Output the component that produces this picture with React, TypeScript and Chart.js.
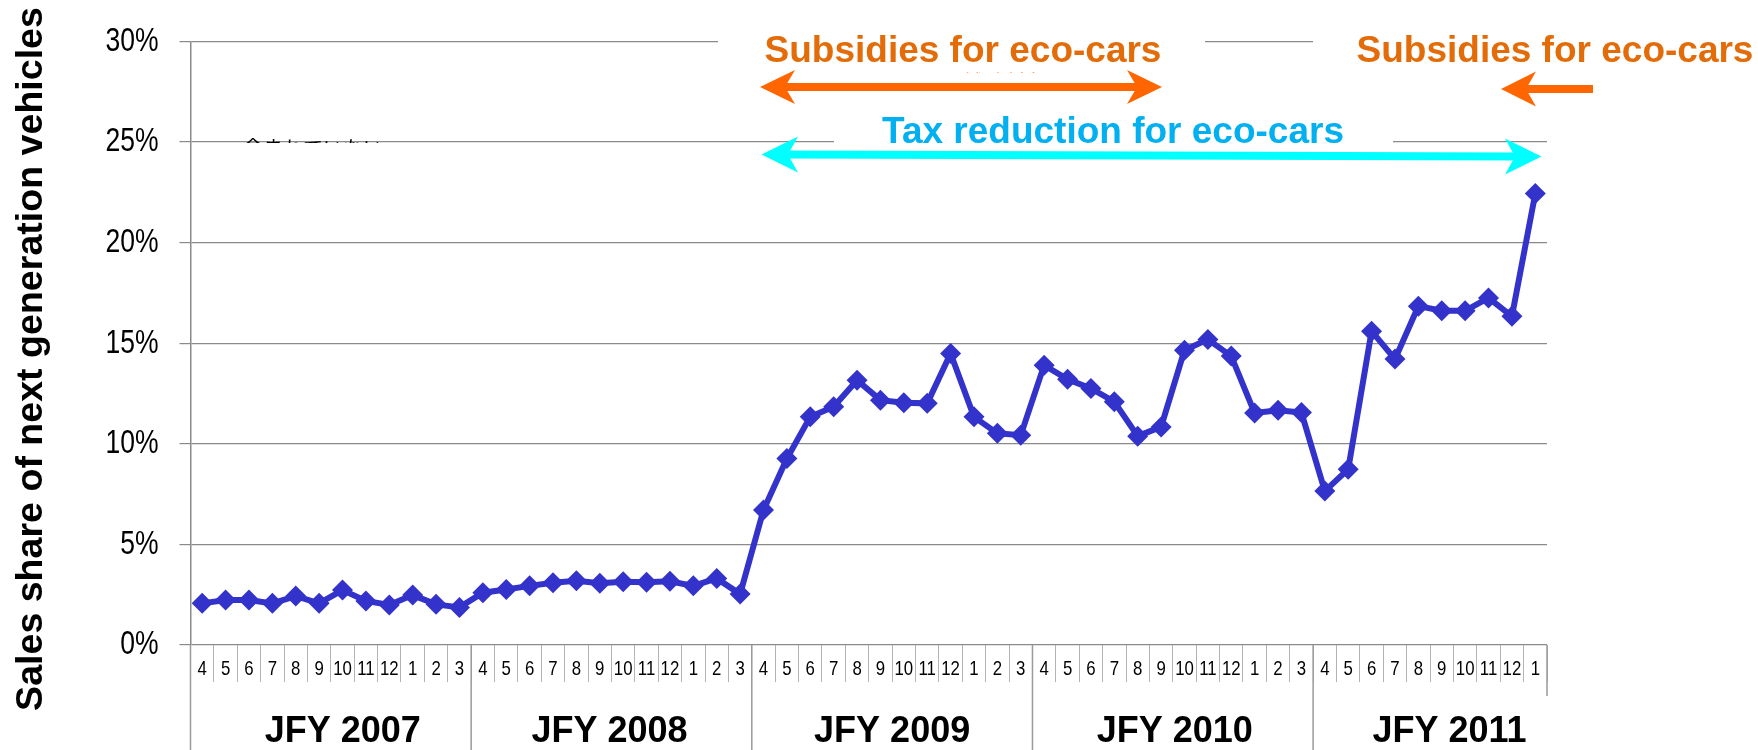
import React, { useEffect, useRef } from 'react';
import { Chart, registerables } from 'chart.js';

Chart.register(...registerables);

// ---------- data ----------
const monthLabels = [
  '4', '5', '6', '7', '8', '9', '10', '11', '12', '1', '2', '3',
  '4', '5', '6', '7', '8', '9', '10', '11', '12', '1', '2', '3',
  '4', '5', '6', '7', '8', '9', '10', '11', '12', '1', '2', '3',
  '4', '5', '6', '7', '8', '9', '10', '11', '12', '1', '2', '3',
  '4', '5', '6', '7', '8', '9', '10', '11', '12', '1',
];
const fiscalYears = ['JFY 2007', 'JFY 2008', 'JFY 2009', 'JFY 2010', 'JFY 2011'];
const monthsPerYear = [12, 12, 12, 12, 10];

const share2007 = [2.07, 2.24, 2.24, 2.07, 2.43, 2.07, 2.73, 2.19, 1.99, 2.48, 2.02, 1.87];
const share2008 = [2.6, 2.76, 2.94, 3.09, 3.19, 3.07, 3.14, 3.12, 3.17, 2.94, 3.31, 2.53];
const share2009 = [6.71, 9.27, 11.34, 11.84, 13.16, 12.17, 12.04, 12.01, 14.49, 11.34, 10.52, 10.43];
const share2010 = [13.91, 13.21, 12.75, 12.09, 10.38, 10.84, 14.65, 15.19, 14.36, 11.53, 11.67, 11.55];
const share2011 = [7.65, 8.74, 15.6, 14.21, 16.84, 16.61, 16.61, 17.25, 16.34, 22.44];

const yTickValues = [0, 5, 10, 15, 20, 25, 30];

const yTitle = 'Sales share of next generation vehicles';
const subsidyText = 'Subsidies for eco-cars';
const taxText = 'Tax reduction for eco-cars';
const hiddenNote = '含まれていない';
const hiddenNote2 = '補助対象';

const seriesValues = [...share2007, ...share2008, ...share2009, ...share2010, ...share2011];

// ---------- styles ----------
const SANS = '"Liberation Sans", Arial, sans-serif';
const GRID = '#8a8a8a';
const ORANGE_TEXT = '#E36C09';
const ORANGE = '#FF6600';
const BLUE_TEXT = '#00B0F0';
const CYAN = '#00FFFF';
const LINE = '#3333CC';

// draw a scale's tick labels horizontally condensed (Arial-Narrow look)
function condenseLabels(scale: any, k: number) {
  if (scale.__condensed) return;
  scale.__condensed = true;
  const orig = scale.drawLabels.bind(scale);
  scale.drawLabels = (area: any) => {
    const ctx = scale.ctx;
    const of = ctx.fillText;
    ctx.fillText = function (text: string, x: number, y: number, maxW?: number) {
      this.save();
      this.translate(x, y);
      this.scale(k, 1);
      if (maxW === undefined) of.call(this, text, 0, 0);
      else of.call(this, text, 0, 0, maxW / k);
      this.restore();
    };
    try {
      orig(area);
    } finally {
      ctx.fillText = of;
    }
  };
}

function arrowHead(ctx: CanvasRenderingContext2D, tx: number, ty: number, dir: number, len: number, half: number, notch: number) {
  ctx.beginPath();
  ctx.moveTo(tx, ty);
  ctx.lineTo(tx + dir * len, ty - half);
  ctx.lineTo(tx + dir * (len - notch), ty);
  ctx.lineTo(tx + dir * len, ty + half);
  ctx.closePath();
  ctx.fill();
}

const overlayPlugin = {
  id: 'overlay',
  afterDraw(chart: any) {
    const ctx: CanvasRenderingContext2D = chart.ctx;
    const xs = chart.scales.x;
    const area = chart.chartArea;
    ctx.save();

    // white text boxes hiding gridlines
    ctx.fillStyle = '#ffffff';
    ctx.fillRect(718, 30, 487, 20);
    ctx.fillRect(834, 132, 559, 18);
    ctx.fillRect(1313, 30, 445, 20);

    // faint hidden note slivers
    ctx.save();
    ctx.beginPath();
    ctx.rect(230, 130, 200, 13);
    ctx.clip();
    ctx.fillStyle = '#000';
    ctx.font = `20px "Noto Sans CJK JP", sans-serif`;
    ctx.textAlign = 'left';
    ctx.textBaseline = 'alphabetic';
    ctx.fillText(hiddenNote, 243, 156);
    ctx.restore();

    ctx.save();
    ctx.beginPath();
    ctx.rect(955, 70, 95, 3);
    ctx.clip();
    ctx.fillStyle = ORANGE;
    ctx.font = `21px "Noto Sans CJK JP", sans-serif`;
    ctx.textAlign = 'left';
    ctx.fillText(hiddenNote2, 963, 90);
    ctx.restore();

    // annotation texts
    ctx.font = `bold 37px ${SANS}`;
    ctx.textAlign = 'center';
    ctx.textBaseline = 'alphabetic';
    ctx.fillStyle = ORANGE_TEXT;
    ctx.fillText(subsidyText, 963, 62);
    ctx.fillText(subsidyText, 1555, 62);
    ctx.fillStyle = BLUE_TEXT;
    ctx.fillText(taxText, 1113, 143);

    // orange double arrow
    ctx.fillStyle = ORANGE;
    ctx.strokeStyle = ORANGE;
    ctx.lineWidth = 8;
    ctx.beginPath();
    ctx.moveTo(780, 87);
    ctx.lineTo(1142, 87);
    ctx.stroke();
    arrowHead(ctx, 760, 87, 1, 35, 17, 10);
    arrowHead(ctx, 1162, 87, -1, 35, 17, 10);

    // orange single arrow (right)
    ctx.beginPath();
    ctx.moveTo(1521, 89);
    ctx.lineTo(1593, 89);
    ctx.stroke();
    arrowHead(ctx, 1501, 89, 1, 35, 17.5, 10);

    // cyan double arrow
    ctx.fillStyle = CYAN;
    ctx.strokeStyle = CYAN;
    ctx.beginPath();
    ctx.moveTo(782, 154.5);
    ctx.lineTo(1521, 156.5);
    ctx.stroke();
    arrowHead(ctx, 761.5, 154.5, 1, 36.5, 18, 10);
    arrowHead(ctx, 1541.5, 156.5, -1, 36.5, 18, 10);

    // y-axis title
    ctx.save();
    ctx.translate(42, 359);
    ctx.rotate(-Math.PI / 2);
    ctx.fillStyle = '#000';
    ctx.font = `bold 37.6px ${SANS}`;
    ctx.textAlign = 'center';
    ctx.textBaseline = 'alphabetic';
    ctx.fillText(yTitle, 0, 0);
    ctx.restore();

    // fiscal-year dividers and labels
    const nudges = [12, -2, 0, 2, -4];
    ctx.strokeStyle = '#9a9a9a';
    ctx.lineWidth = 1.5;
    let start = 0;
    ctx.font = `bold 36px ${SANS}`;
    ctx.fillStyle = '#000';
    ctx.textAlign = 'center';
    for (let i = 0; i < fiscalYears.length; i++) {
      const px = xs.getPixelForValue(start - 0.5);
      ctx.beginPath();
      ctx.moveTo(px, area.bottom);
      ctx.lineTo(px, 750);
      ctx.stroke();
      const cx = xs.getPixelForValue(start + 5.5) + nudges[i];
      ctx.fillText(fiscalYears[i], cx, 742);
      start += monthsPerYear[i];
    }
    const endPx = xs.getPixelForValue(start - 0.5);
    ctx.beginPath();
    ctx.moveTo(endPx, area.bottom);
    ctx.lineTo(endPx, 696);
    ctx.stroke();

    ctx.restore();
  },
};

export default function App() {
  const ref = useRef<HTMLCanvasElement | null>(null);

  useEffect(() => {
    document.body.style.margin = '0';
    const canvas = ref.current;
    if (!canvas) return;
    const chart = new Chart(canvas, {
      type: 'line',
      data: {
        labels: monthLabels,
        datasets: [
          {
            data: seriesValues,
            borderColor: LINE,
            backgroundColor: LINE,
            borderWidth: 6,
            tension: 0,
            pointStyle: 'rectRot',
            pointRadius: 10.5,
            pointBorderWidth: 0,
            pointBackgroundColor: LINE,
            pointBorderColor: LINE,
          },
        ],
      },
      options: {
        animation: false,
        responsive: false,
        devicePixelRatio: 1,
        layout: { padding: { top: 41, right: 211, bottom: 0, left: 0 } },
        plugins: {
          legend: { display: false },
          tooltip: { enabled: false },
          title: { display: false },
        },
        scales: {
          x: {
            type: 'category',
            offset: true,
            afterFit: (s: any) => {
              s.height = 105;
              condenseLabels(s, 0.8);
            },
            grid: {
              offset: true,
              drawOnChartArea: false,
              drawTicks: true,
              tickLength: 37,
              color: '#b4b4b4',
              lineWidth: 1,
            },
            border: { display: false },
            ticks: {
              autoSkip: false,
              maxRotation: 0,
              minRotation: 0,
              padding: -25,
              color: '#000',
              font: { family: SANS, size: 21 },
            },
          },
          y: {
            min: 0,
            max: 30,
            afterFit: (s: any) => {
              s.width = 190.5;
              condenseLabels(s, 0.78);
            },
            afterBuildTicks: (s: any) => {
              s.ticks = yTickValues.map((v) => ({ value: v }));
            },
            grid: {
              color: GRID,
              lineWidth: 1.2,
              tickLength: 11,
              drawTicks: true,
            },
            border: { display: true, color: GRID, width: 1.5 },
            ticks: {
              padding: 21,
              color: '#000',
              font: { family: SANS, size: 34 },
              callback: (v: any) => `${v}%`,
            },
          },
        },
      },
      plugins: [overlayPlugin],
    });
    return () => chart.destroy();
  }, []);

  return (
    <div style={{ position: 'absolute', left: 0, top: 0, width: 1758, height: 750, background: '#fff' }}>
      <canvas ref={ref} width={1758} height={750} style={{ display: 'block' }} />
    </div>
  );
}
